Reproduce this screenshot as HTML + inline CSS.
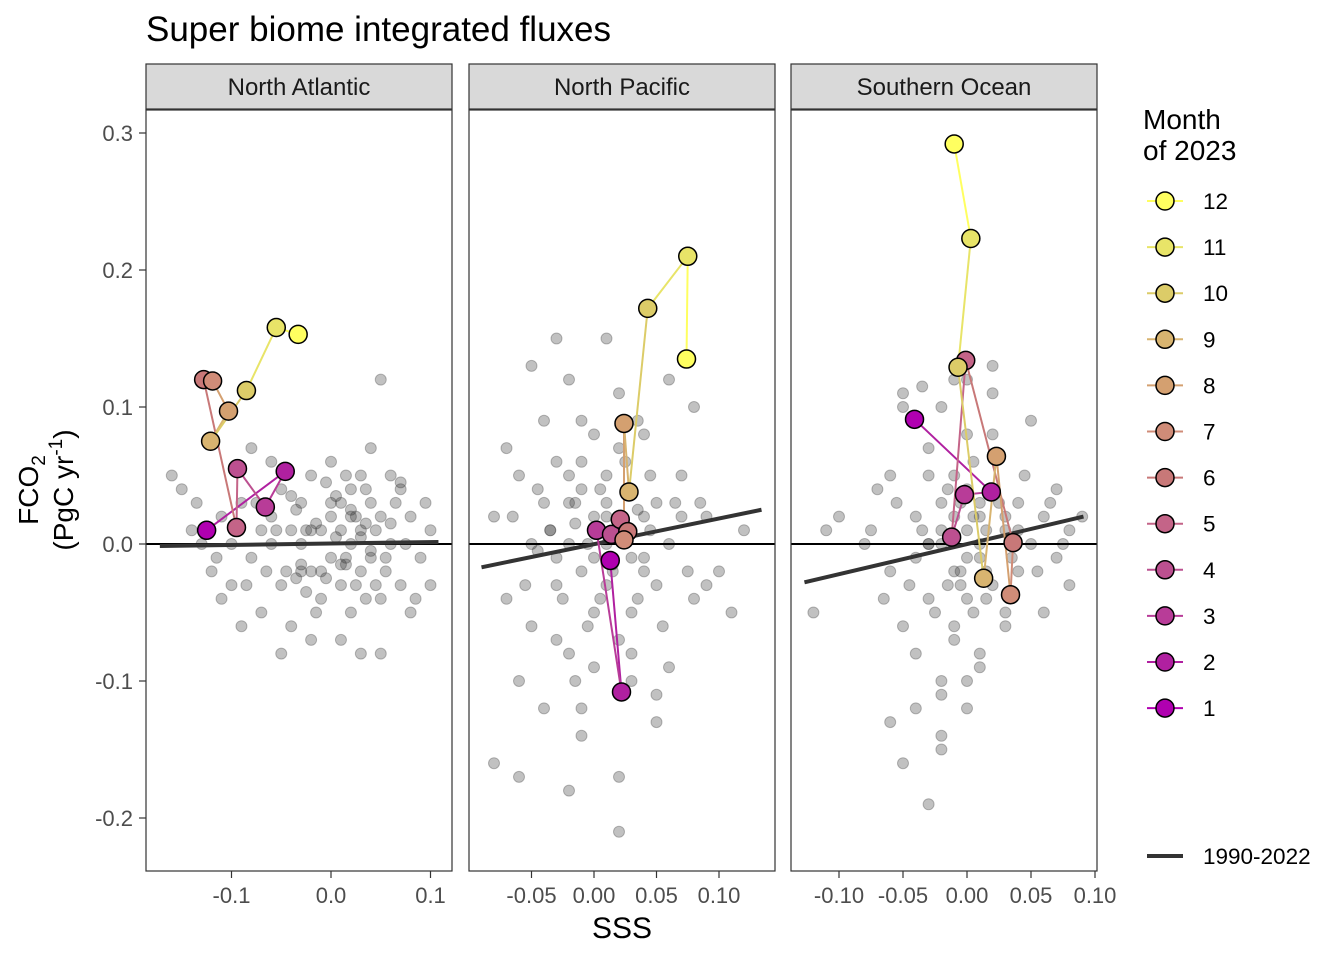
<!DOCTYPE html>
<html><head><meta charset="utf-8"><style>
html,body{margin:0;padding:0;background:#fff;}
svg{display:block;font-family:"Liberation Sans",sans-serif;}
</style></head><body>
<svg id="chart" width="1344" height="960" xmlns="http://www.w3.org/2000/svg"></svg>
<script>
const panelNames=["North Atlantic","North Pacific","Southern Ocean"];
const monthLabels=["1","2","3","4","5","6","7","8","9","10","11","12"];
const monthColors=["#B000B0","#B020A0","#B83C98","#BC5090","#C46488","#C87878","#D08C78","#D4A070","#D8B470","#DCCC68","#E8E468","#FFFF60"];
const yTicks=[0.3,0.2,0.1,0.0,-0.1,-0.2];
const yTickLabels=["0.3","0.2","0.1","0.0","-0.1","-0.2"];
const xTicksNA=[-0.1,0,0.1];const xLabNA=["-0.1","0.0","0.1"];
const xTicksNP=[-0.05,0,0.05,0.1];const xLabNP=["-0.05","0.00","0.05","0.10"];
const xTicksSO=[-0.1,-0.05,0,0.05,0.1];const xLabSO=["-0.10","-0.05","0.00","0.05","0.10"];
const naMonthX=[-0.125,-0.046,-0.066,-0.094,-0.095,-0.128,-0.119,-0.103,-0.121,-0.085,-0.055,-0.033];
const naMonthY=[0.010,0.053,0.027,0.055,0.012,0.120,0.119,0.097,0.075,0.112,0.158,0.153];
const npMonthX=[0.013,0.022,0.002,0.014,0.021,0.027,0.024,0.024,0.028,0.043,0.075,0.074];
const npMonthY=[-0.012,-0.108,0.010,0.007,0.018,0.009,0.003,0.088,0.038,0.172,0.210,0.135];
const soMonthX=[-0.041,0.019,-0.002,-0.012,-0.001,0.036,0.034,0.023,0.013,-0.007,0.003,-0.010];
const soMonthY=[0.091,0.038,0.036,0.005,0.134,0.001,-0.037,0.064,-0.025,0.129,0.223,0.292];
const naTrend=[-0.172,-0.0015,0.108,0.0015];
const npTrend=[-0.090,-0.017,0.134,0.025];
const soTrend=[-0.127,-0.028,0.091,0.020];
const naCloud=[-0.16,0.05,-0.15,0.04,-0.14,0.01,-0.12,-0.02,-0.11,-0.04,-0.10,-0.03,-0.09,0.03,-0.08,-0.01,-0.08,0.07,-0.07,-0.05,-0.06,0.00,-0.06,0.02,-0.05,-0.03,-0.05,0.04,-0.04,0.01,-0.04,-0.06,-0.03,0.00,-0.03,0.03,-0.02,-0.02,-0.02,0.05,-0.01,0.01,-0.01,-0.04,0.00,0.02,0.00,-0.01,0.00,0.06,0.01,0.03,0.01,-0.03,0.02,0.00,0.02,0.04,0.02,-0.05,0.03,0.01,0.03,-0.02,0.04,0.03,0.04,-0.01,0.04,0.07,0.05,0.02,0.05,-0.04,0.06,0.00,0.06,0.05,0.07,-0.03,0.08,0.02,0.09,-0.01,0.10,0.01,0.10,-0.03,-0.13,0.00,-0.11,0.02,-0.09,-0.06,-0.07,0.01,-0.05,-0.08,0.01,-0.07,0.03,-0.08,0.05,-0.08,0.05,0.12,-0.06,0.06,-0.02,-0.07,0.02,0.02,0.00,0.03,0.03,0.05,-0.03,-0.02,0.07,0.04,0.08,-0.05,-0.10,0.00,-0.01,-0.02,0.01,0.01,0.035,0.015,-0.025,0.01,0.015,-0.015,-0.035,-0.025,0.055,-0.01,
-0.055,0.01,-0.045,-0.02,-0.035,0.025,-0.025,-0.035,-0.015,0.015,-0.005,-0.025,0.005,0.035,0.015,-0.01,0.025,0.02,0.035,-0.04,0.045,0.01,0.055,-0.02,0.065,0.03,0.015,0.05,-0.015,-0.05,0.025,-0.03,0.005,0.005,0.035,0.04,0.045,-0.03,-0.065,-0.02,-0.075,0.03,-0.085,-0.03,-0.115,-0.01,-0.135,0.03,0.075,0.00,0.085,-0.04,0.095,0.03,-0.005,0.045,0.02,0.025,0.01,-0.015,0.03,0.005,0.04,-0.005,-0.02,0.01,-0.03,-0.015,-0.04,0.035,0.06,0.015,0.07,0.045];
const npCloud=[-0.08,0.02,-0.07,-0.04,-0.06,0.05,-0.06,-0.10,-0.05,0.00,-0.05,-0.06,-0.04,0.03,-0.04,0.09,-0.03,-0.03,-0.03,0.06,-0.02,0.00,-0.02,-0.08,-0.02,0.12,-0.01,0.04,-0.01,-0.02,-0.01,-0.12,0.00,0.02,0.00,-0.05,0.00,0.08,0.01,0.00,0.01,0.05,0.01,-0.03,0.02,0.02,0.02,-0.07,0.02,0.11,0.03,-0.01,0.03,0.04,0.03,-0.05,0.04,0.02,0.04,0.08,0.05,-0.03,0.05,0.03,0.06,0.00,0.06,-0.09,0.07,0.05,0.08,-0.04,0.08,0.10,0.09,0.02,0.10,-0.02,0.11,-0.05,0.12,0.01,-0.08,-0.16,-0.06,-0.17,-0.02,-0.18,0.02,-0.17,0.02,-0.21,-0.01,-0.14,0.03,-0.10,-0.04,-0.12,0.05,-0.11,-0.03,0.15,0.01,0.15,-0.05,0.13,0.06,0.12,-0.07,0.07,0.09,-0.03,-0.02,0.03,0.00,-0.01,0.03,0.01,-0.03,-0.01,0.01,0.03,-0.01,0.06,0.04,-0.02,0.07,0.02,-0.015,0.015,0.015,-0.015,-0.035,0.01,0.035,0.025,
-0.035,0.01,-0.025,-0.04,-0.015,0.03,-0.005,-0.06,0.005,0.04,0.015,-0.02,0.025,0.06,0.035,-0.04,0.045,0.01,0.055,-0.06,-0.045,0.04,-0.055,-0.03,0.065,0.03,-0.02,0.05,0.0,-0.09,0.03,-0.08,-0.01,0.09,0.02,0.07,0.04,-0.01,-0.03,-0.07,0.01,0.02,-0.005,0.0,0.005,-0.04,0.045,0.05,-0.045,-0.005,0.075,-0.02,0.085,0.03,-0.065,0.02,0.035,0.09,-0.015,-0.1,0.05,-0.13];
const soCloud=[-0.12,-0.05,-0.11,0.01,-0.10,0.02,-0.08,0.00,-0.07,0.04,-0.06,-0.02,-0.06,0.05,-0.05,0.11,-0.05,-0.06,-0.04,0.02,-0.04,-0.08,-0.03,0.00,-0.03,0.07,-0.03,-0.04,-0.02,0.03,-0.02,-0.10,-0.02,0.10,-0.01,-0.02,-0.01,0.05,-0.01,-0.07,0.00,0.01,0.00,-0.04,0.00,0.08,0.01,0.02,0.01,-0.01,0.01,-0.09,0.02,0.04,0.02,-0.03,0.02,0.11,0.03,0.01,0.03,-0.06,0.04,0.03,0.04,-0.02,0.05,0.00,0.05,0.09,0.06,0.02,0.06,-0.05,0.07,-0.01,0.07,0.04,0.08,0.01,0.08,-0.03,0.09,0.02,-0.06,-0.13,-0.05,-0.16,-0.04,-0.12,-0.02,-0.14,-0.03,-0.19,-0.02,-0.11,0.00,-0.10,-0.05,0.10,0.02,0.13,0.00,0.12,-0.03,0.00,-0.01,0.02,0.00,-0.01,0.01,0.00,-0.02,0.01,0.03,0.02,0.01,0.03,-0.04,-0.01,-0.015,-0.03,0.015,-0.02,0.005,-0.05,-0.005,0.03,
-0.035,0.01,-0.025,-0.05,-0.015,0.04,-0.005,-0.03,0.005,0.06,0.015,-0.04,0.025,0.03,0.035,-0.01,0.045,0.05,-0.045,-0.03,-0.01,-0.06,0.0,0.04,0.01,-0.08,0.02,0.08,-0.03,0.05,0.03,-0.05,0.04,0.01,-0.02,0.0,0.005,0.02,-0.005,-0.02,0.015,0.01,0.055,-0.02,0.065,0.03,-0.055,0.03,-0.065,-0.04,0.075,0.0,-0.075,0.01,-0.01,0.12,-0.035,0.115,0.0,-0.12,-0.02,-0.15];

const NS="http://www.w3.org/2000/svg";
const svg=document.getElementById('chart');
function mk(tag,attrs,parent){const e=document.createElementNS(NS,tag);for(const k in attrs)e.setAttribute(k,attrs[k]);(parent||svg).appendChild(e);return e;}
const yScale=v=>544-v*1370;
const panels=[
 {left:146,right:452,x:v=>331+v*995,ticks:xTicksNA,labs:xLabNA,mx:naMonthX,my:naMonthY,tr:naTrend,cl:naCloud,key:"north-atlantic"},
 {left:469,right:775,x:v=>594+v*1250,ticks:xTicksNP,labs:xLabNP,mx:npMonthX,my:npMonthY,tr:npTrend,cl:npCloud,key:"north-pacific"},
 {left:791,right:1097,x:v=>967+v*1280,ticks:xTicksSO,labs:xLabSO,mx:soMonthX,my:soMonthY,tr:soTrend,cl:soCloud,key:"southern-ocean"}];
const plotTop=110,plotBottom=871;

let t=mk('text',{x:146,y:41,'font-size':35,fill:'#000'});t.textContent="Super biome integrated fluxes";



panels.forEach((p,pi)=>{
 const g=mk('g',{});
 
 
 const s=mk('rect',{x:p.left,y:64,width:p.right-p.left,height:45,fill:'#d9d9d9',stroke:'#333','stroke-width':1.2},g);
 
 
 const st=mk('text',{x:(p.left+p.right)/2,y:95,'text-anchor':'middle','font-size':24,fill:'#1a1a1a'},g);st.textContent=panelNames[pi];
 
 
 mk('rect',{x:p.left,y:plotTop,width:p.right-p.left,height:plotBottom-plotTop,fill:'#fff'},g);
 const cg=mk('g',{},g);
 for(let i=0;i<p.cl.length;i+=2){
  const c=mk('circle',{cx:p.x(p.cl[i]),cy:yScale(p.cl[i+1]),r:5.5,fill:'#333','fill-opacity':0.3,stroke:'#333','stroke-opacity':0.3},cg);
  
  
 }
 const z=mk('line',{x1:p.left,x2:p.right,y1:yScale(0),y2:yScale(0),stroke:'#000','stroke-width':2},g);
 
 
 const tl=mk('line',{x1:p.x(p.tr[0]),y1:yScale(p.tr[1]),x2:p.x(p.tr[2]),y2:yScale(p.tr[3]),stroke:'#333','stroke-width':4},g);
 
 
 for(let m=0;m<11;m++){
  const l=mk('line',{x1:p.x(p.mx[m]),y1:yScale(p.my[m]),x2:p.x(p.mx[m+1]),y2:yScale(p.my[m+1]),stroke:monthColors[m+1],'stroke-width':2},g);
  
  
 }
 for(let m=0;m<12;m++){
  const c=mk('circle',{cx:p.x(p.mx[m]),cy:yScale(p.my[m]),r:9,fill:monthColors[m],stroke:'#000','stroke-width':1.5},g);
  
  
 }
 const b=mk('rect',{x:p.left,y:plotTop,width:p.right-p.left,height:plotBottom-plotTop,fill:'none',stroke:'#333','stroke-width':1.2},g);
 
 
 p.ticks.forEach((v,i)=>{
  const X=p.x(v);
  mk('line',{x1:X,x2:X,y1:plotBottom,y2:plotBottom+7,stroke:'#333','stroke-width':1.2},g);
  const tx=mk('text',{x:X,y:903,'text-anchor':'middle','font-size':22,fill:'#4d4d4d'},g);tx.textContent=p.labs[i];
  
  
 });
});
yTicks.forEach((v,i)=>{
 const Y=yScale(v);
 mk('line',{x1:139,x2:146,y1:Y,y2:Y,stroke:'#333','stroke-width':1.2});
 const tx=mk('text',{x:133,y:Y+8,'text-anchor':'end','font-size':22,fill:'#4d4d4d'});tx.textContent=yTickLabels[i];
 
 
});
const xt=mk('text',{x:622,y:938,'text-anchor':'middle','font-size':30,fill:'#000'});xt.textContent="SSS";


const yg=mk('g',{transform:'translate(0,490) rotate(-90)'});


const y1=mk('text',{x:0,y:38,'text-anchor':'middle','font-size':28,fill:'#000'},yg);
y1.innerHTML='FCO<tspan font-size="19" dy="7">2</tspan>';
const y2=mk('text',{x:0,y:73,'text-anchor':'middle','font-size':28,fill:'#000'},yg);
y2.innerHTML='(PgC yr<tspan font-size="19" dy="-11">-1</tspan><tspan dy="11">)</tspan>';

const lg=mk('g',{});


const lt1=mk('text',{x:1143,y:129,'font-size':28,fill:'#000'},lg);lt1.textContent="Month";
const lt2=mk('text',{x:1143,y:160,'font-size':28,fill:'#000'},lg);lt2.textContent="of 2023";
for(let k=0;k<12;k++){
 const m=11-k;const Y=201+k*46.1;
 const e=mk('g',{},lg);
 
 
 mk('line',{x1:1147,x2:1183,y1:Y,y2:Y,stroke:monthColors[m],'stroke-width':2},e);
 mk('circle',{cx:1165,cy:Y,r:9,fill:monthColors[m],stroke:'#000','stroke-width':1.5},e);
 const tx=mk('text',{x:1203,y:Y+8,'font-size':22.5,fill:'#000'},e);tx.textContent=monthLabels[m];
}
const te=mk('g',{},lg);


mk('line',{x1:1147,x2:1183,y1:856,y2:856,stroke:'#333','stroke-width':4},te);
const tt=mk('text',{x:1203,y:864,'font-size':22.5,fill:'#000'},te);tt.textContent="1990-2022";
</script>
</body></html>
